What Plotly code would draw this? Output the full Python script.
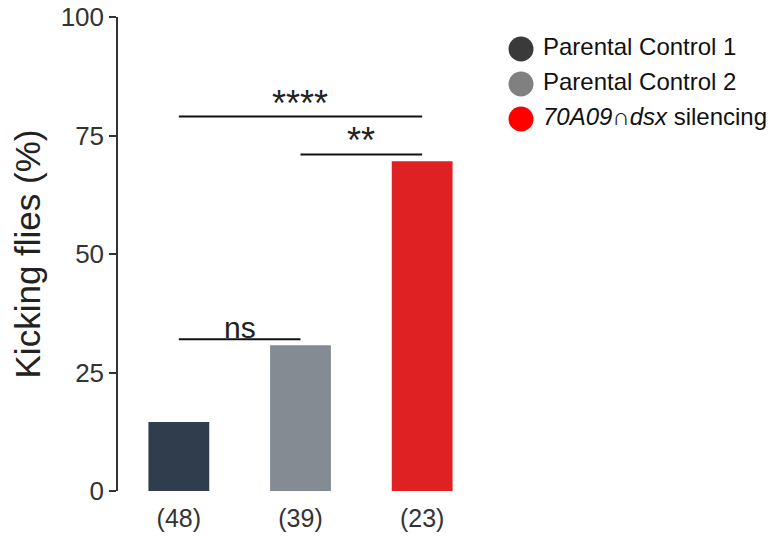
import plotly.graph_objects as go

categories = ["(48)", "(39)", "(23)"]
values = [14.58, 30.77, 69.57]
bar_colors = ["#2f3d4c", "#848b93", "#e02123"]
legend_names = ["Parental Control 1", "Parental Control 2", "<i>70A09∩dsx</i> silencing"]
legend_colors = ["#3a3a3a", "#808080", "#ff0000"]
sig_left = [0, 0, 1]
sig_right = [1, 2, 2]
sig_y = [32, 79, 71]
sig_text = ["ns", "****", "**"]
y_ticks = [0, 25, 50, 75, 100]

FONT = "Liberation Sans, Arial, sans-serif"

fig = go.Figure()
fig.add_trace(go.Bar(
    x=list(range(len(categories))), y=values, marker=dict(color=bar_colors, line=dict(width=0)),
    width=0.5, showlegend=False, hoverinfo="skip", xaxis="x", yaxis="y"))

# legend drawn as a small scatter panel on its own axes
legend_idx = list(range(len(legend_names)))
fig.add_trace(go.Scatter(
    x=[0] * len(legend_names), y=legend_idx, mode="markers",
    marker=dict(symbol="circle", size=25, color=legend_colors, line=dict(width=0)),
    showlegend=False, hoverinfo="skip", xaxis="x2", yaxis="y2", cliponaxis=False))
fig.add_trace(go.Scatter(
    x=[22] * len(legend_names), y=legend_idx, mode="text", text=legend_names,
    textposition="middle right", textfont=dict(size=24, color="#111111", family=FONT),
    showlegend=False, hoverinfo="skip", xaxis="x2", yaxis="y2", cliponaxis=False))

for l, r, y, t in zip(sig_left, sig_right, sig_y, sig_text):
    fig.add_shape(type="line", x0=l, x1=r, y0=y, y1=y, xref="x", yref="y",
                  line=dict(color="#111111", width=2))
    if t == "ns":
        fig.add_annotation(x=(l + r) / 2, y=y, text=t, showarrow=False, xref="x", yref="y",
                           yanchor="bottom", yshift=-7, font=dict(size=30, color="#222222", family=FONT))
    else:
        fig.add_annotation(x=(l + r) / 2, y=y, text=t, showarrow=False, xref="x", yref="y",
                           yanchor="bottom", yshift=-9, font=dict(size=36, color="#222222", family=FONT))

fig.update_layout(
    width=778, height=536,
    margin=dict(l=118, r=8, t=17, b=45, autoexpand=False),
    plot_bgcolor="white", paper_bgcolor="white",
    font=dict(family=FONT, color="#333333"),
    showlegend=False,
    xaxis=dict(domain=[0, 0.5598], range=[-0.5, 2.5], tickvals=list(range(len(categories))),
               ticktext=categories, showline=False, showgrid=False, zeroline=False, ticks="",
               ticklabelstandoff=10,
               tickfont=dict(size=25, color="#333333"), fixedrange=True),
    yaxis=dict(domain=[0, 1], range=[0, 100], tickvals=y_ticks, showline=True, linecolor="#333333",
               linewidth=1.5, ticks="outside", ticklen=7, tickwidth=1.5, tickcolor="#333333",
               showgrid=False, zeroline=False,
               tickfont=dict(size=26, color="#333333"),
               title=dict(text="Kicking flies (%)", font=dict(size=35, color="#222222"), standoff=9)),
    xaxis2=dict(domain=[0.5859, 1.0], range=[-21, 249], visible=False, anchor="y2"),
    yaxis2=dict(domain=[0.75, 1.0], range=[2.472, -0.914], visible=False, anchor="x2"),
)

fig.write_html("out.html")
